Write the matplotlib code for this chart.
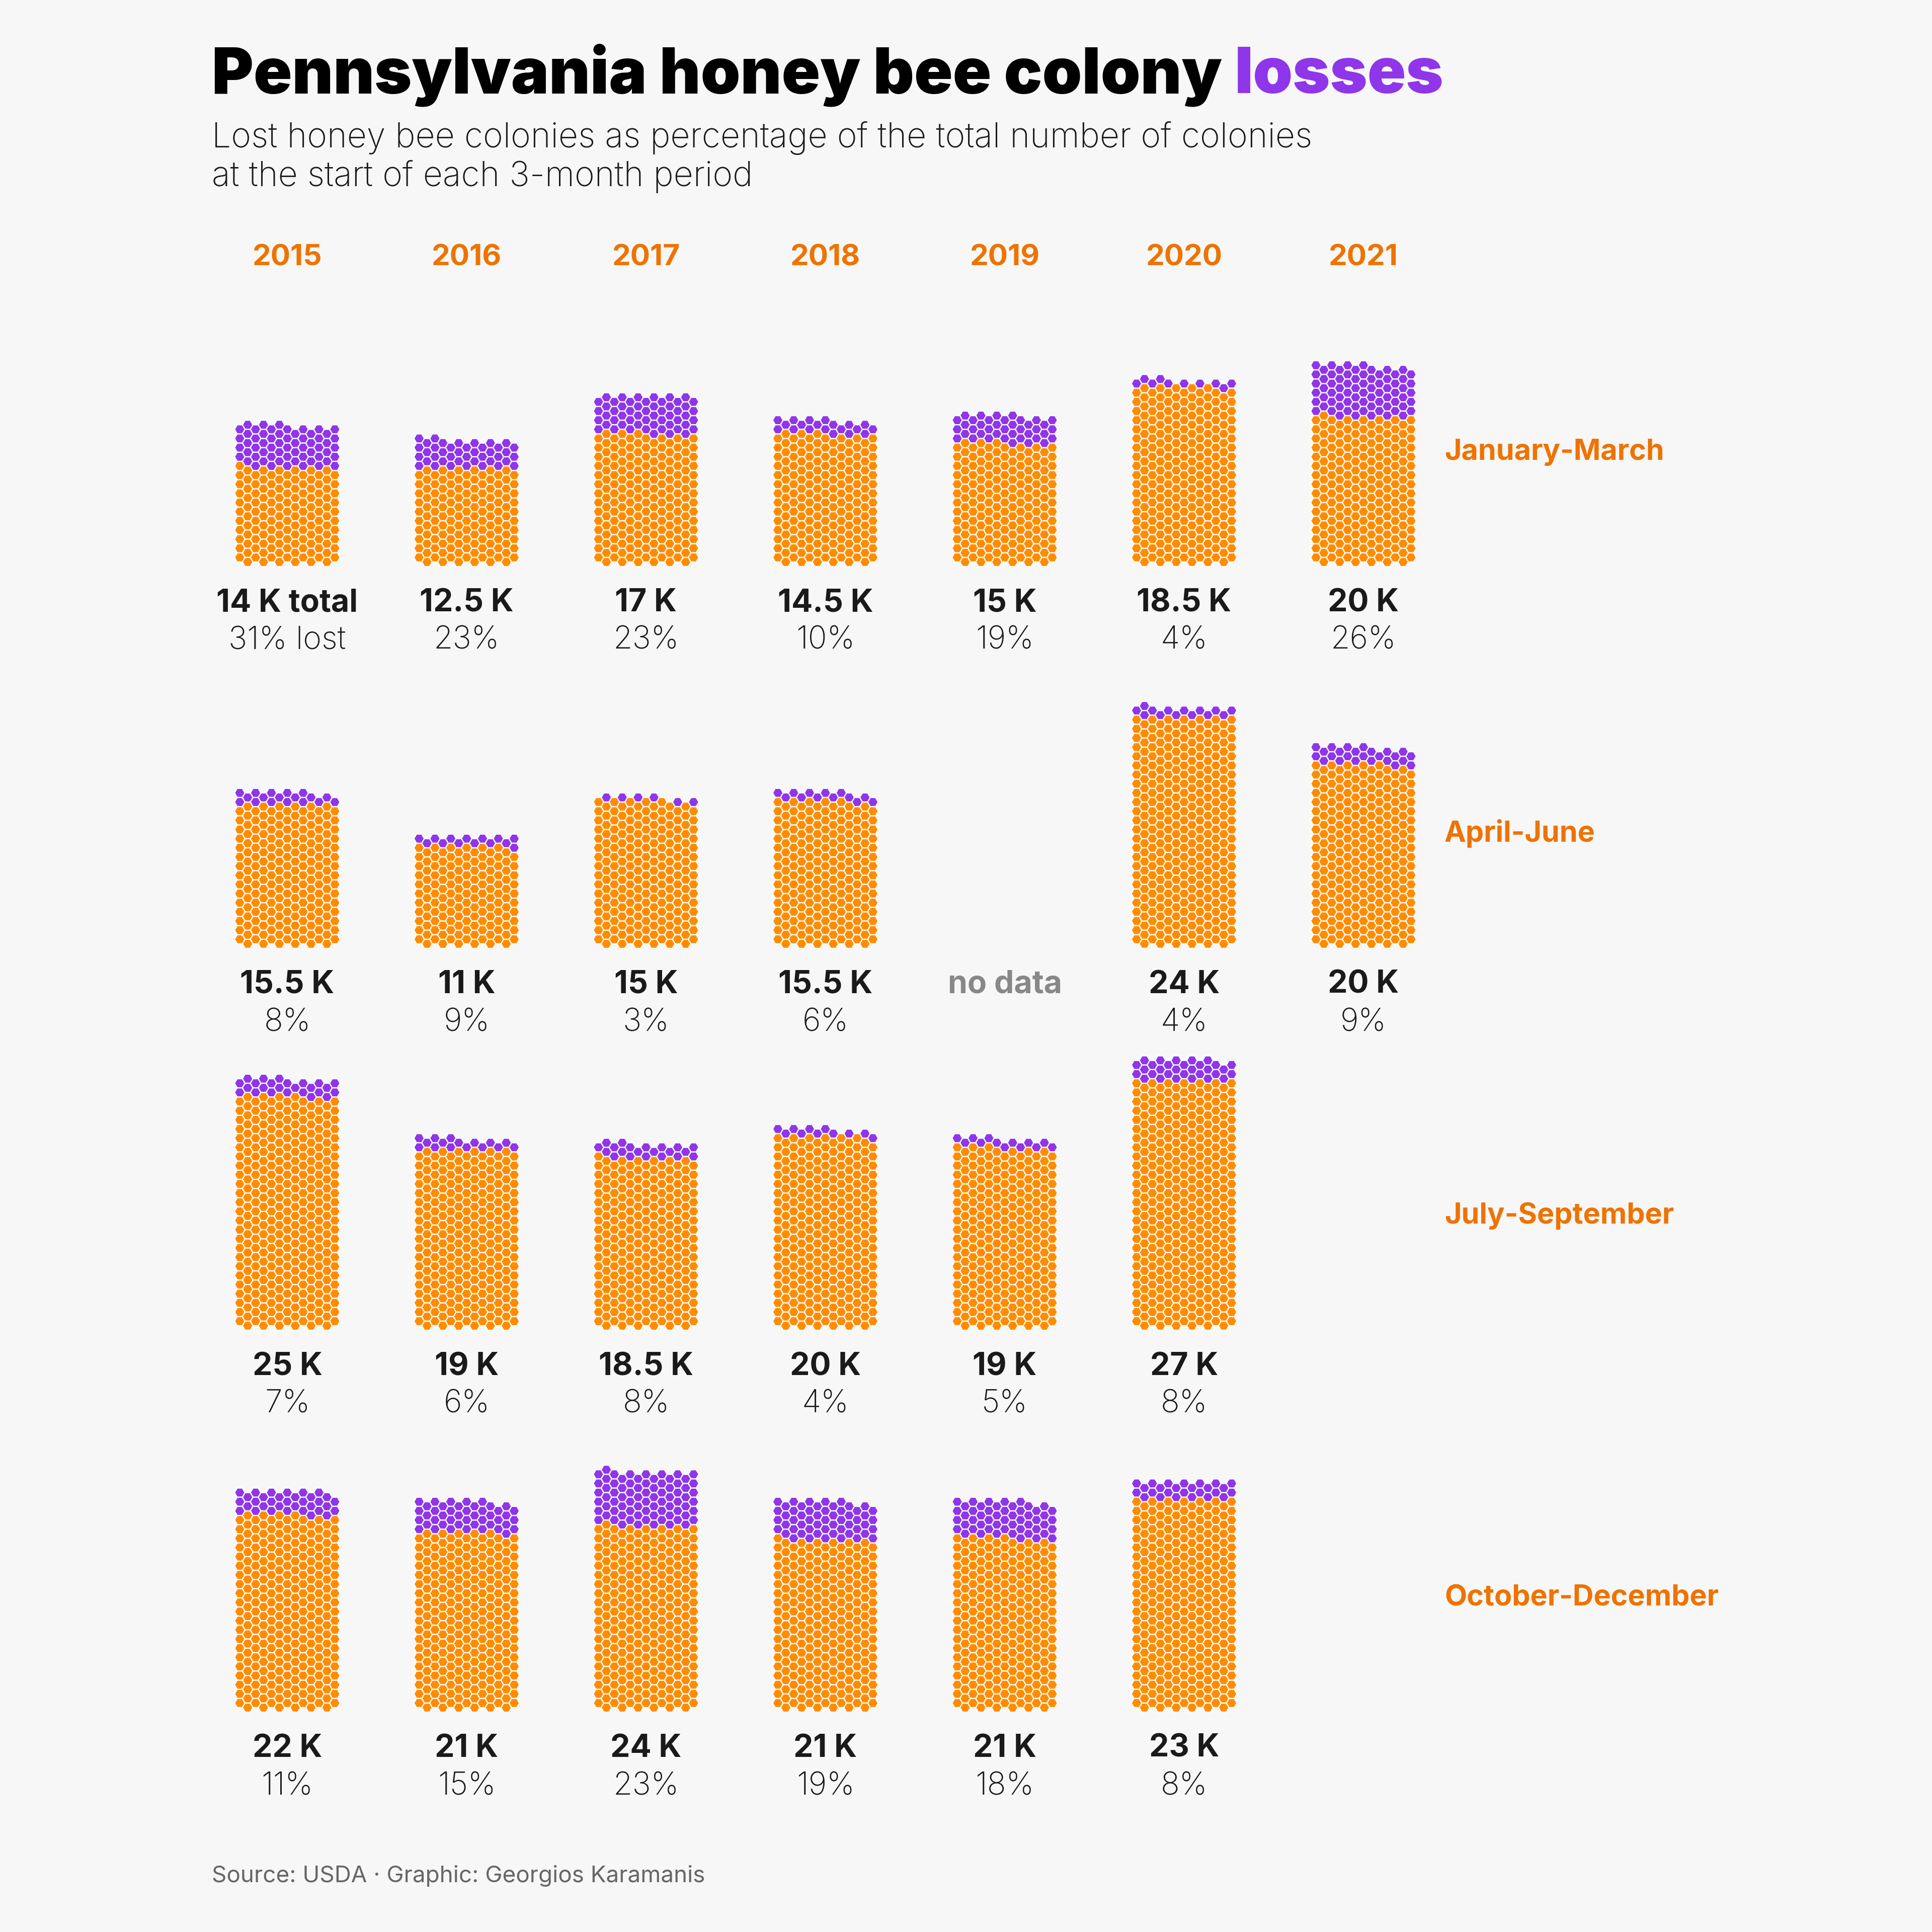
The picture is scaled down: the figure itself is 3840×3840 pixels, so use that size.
import numpy as np
import matplotlib
matplotlib.use("Agg")
import matplotlib.pyplot as plt
from matplotlib.collections import PolyCollection

# data: colonies (thousands) at the start of each quarter and % lost
years = [2015, 2016, 2017, 2018, 2019, 2020, 2021]
quarters = ["January-March", "April-June", "July-September", "October-December"]

jan_mar = [14, 12.5, 17, 14.5, 15, 18.5, 20]
apr_jun = [15.5, 11, 15, 15.5, None, 24, 20]
jul_sep = [25, 19, 18.5, 20, 19, 27, None]
oct_dec = [22, 21, 24, 21, 21, 23, None]

jan_mar_lost = [31, 23, 23, 10, 19, 4, 26]
apr_jun_lost = [8, 9, 3, 6, None, 4, 9]
jul_sep_lost = [7, 6, 8, 4, 5, 8, None]
oct_dec_lost = [11, 15, 23, 19, 18, 8, None]

totals = [jan_mar, apr_jun, jul_sep, oct_dec]
lost = [jan_mar_lost, apr_jun_lost, jul_sep_lost, oct_dec_lost]

COLONIES_PER_HEX = 70.7
N_COLS = 13

BG = "#f7f7f7"
ORANGE = "#ff8c00"
LABEL_ORANGE = "#ee7300"
PURPLE = "#8f35ea"
DARK = "#1a1a1a"

# layout in pixels (figure is 3840 x 3840)
R = 10.5                    # hex lattice radius
DX = 1.5 * R
DY = np.sqrt(3) * R
X0, XSTEP = 571, 356.5      # year column centres
Y0, YSTEP = 1117, 759       # bottom hex of each quarter row


def hex_centres(n):
    """Hex lattice positions filled bottom half-row first, left to right."""
    pts = []
    h = 0
    while len(pts) < n:
        cols = range(1, N_COLS, 2) if h % 2 == 0 else range(0, N_COLS, 2)
        for c in cols:
            if len(pts) >= n:
                break
            pts.append((c - (N_COLS - 1) / 2, h))
        h += 1
    return pts


def hexagon(x, y, r):
    a = np.radians(np.arange(0, 360, 60))
    return np.column_stack([x + r * np.cos(a), y + r * np.sin(a)])


def fmt_k(v):
    return f"{v:g} K"


fig = plt.figure(figsize=(12.8, 12.8), dpi=300, facecolor=BG)
ax = fig.add_axes([0, 0, 1, 1])
ax.set_xlim(0, 3840)
ax.set_ylim(3840, 0)
ax.axis("off")
ax.set_facecolor(BG)

FONT = "Inter"

polys, colors = [], []
for r, q in enumerate(quarters):
    base = Y0 + r * YSTEP
    for j, yr in enumerate(years):
        cx = X0 + j * XSTEP
        tot = totals[r][j]
        pct = lost[r][j]
        if tot is None:
            if r == 1 and yr == 2019:
                ax.text(cx, base + 98, "no data", ha="center", va="baseline",
                        fontsize=15, fontweight="bold", color="#888888", family=FONT)
            continue
        n = int(round(tot * 1000 / COLONIES_PER_HEX))
        n_lost = int(round(n * pct / 100))
        for k, (c, h) in enumerate(hex_centres(n)):
            polys.append(hexagon(cx + c * DX, base - h * DY / 2, R * 0.97))
            colors.append(ORANGE if k < n - n_lost else PURPLE)
        top = fmt_k(tot) + (" total" if (r == 0 and j == 0) else "")
        bottom = f"{pct}%" + (" lost" if (r == 0 and j == 0) else "")
        ax.text(cx, base + 98, top, ha="center", va="baseline", fontsize=15,
                fontweight="bold", color=DARK, family=FONT)
        ax.text(cx, base + 173, bottom, ha="center", va="baseline", fontsize=15,
                fontweight="light", color=DARK, family=FONT)
    ax.text(2871, 914 + r * YSTEP, q, ha="left", va="baseline", fontsize=13.8,
            fontweight="bold", color=LABEL_ORANGE, family=FONT)

ax.add_collection(PolyCollection(polys, facecolors=colors, edgecolors="white",
                                 linewidths=0.45))

for j, yr in enumerate(years):
    ax.text(X0 + j * XSTEP, 527, str(yr), ha="center", va="baseline", fontsize=14,
            fontweight="bold", color=LABEL_ORANGE, family=FONT)

# title with coloured last word
t1 = ax.text(421, 185, "Pennsylvania honey bee colony ", ha="left", va="baseline",
             fontsize=30.3, fontweight="black", color="black", family=FONT)
fig.canvas.draw()
bb = t1.get_window_extent(renderer=fig.canvas.get_renderer())
x_end = ax.transData.inverted().transform((bb.x1, bb.y0))[0]
ax.text(x_end, 185, "losses", ha="left", va="baseline", fontsize=30.3,
        fontweight="black", color=PURPLE, family=FONT)

ax.text(421, 293, "Lost honey bee colonies as percentage of the total number of colonies",
        ha="left", va="baseline", fontsize=16.3, fontweight="light", color=DARK, family=FONT)
ax.text(421, 370, "at the start of each 3-month period",
        ha="left", va="baseline", fontsize=16.3, fontweight="light", color=DARK, family=FONT)

ax.text(421, 3741, "Source: USDA · Graphic: Georgios Karamanis", ha="left", va="baseline",
        fontsize=11.0, color="#666666", family=FONT)

fig.savefig("out.png", dpi=300, facecolor=BG)
